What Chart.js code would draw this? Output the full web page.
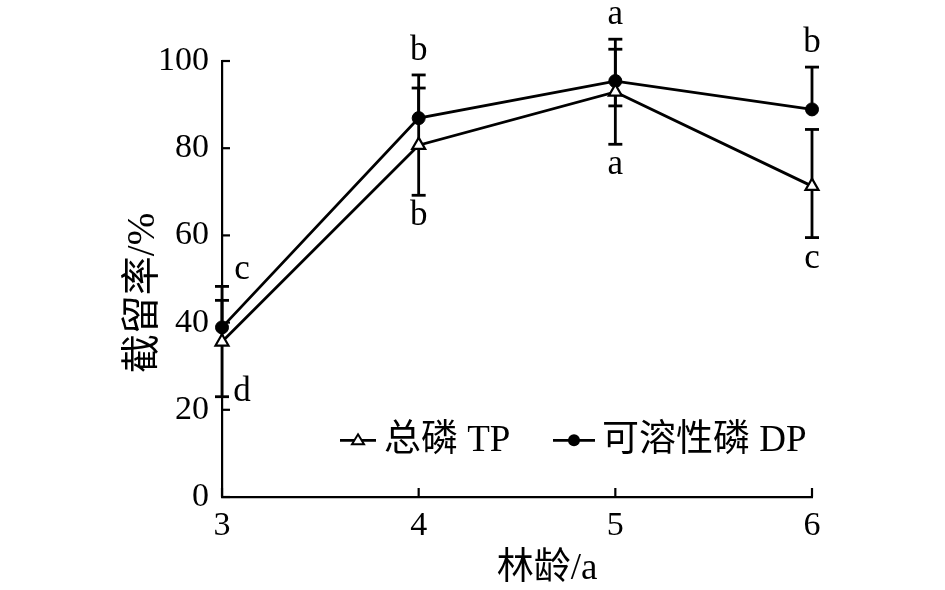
<!DOCTYPE html>
<html>
<head>
<meta charset="utf-8">
<script src="https://cdn.jsdelivr.net/npm/chart.js@4.4.0/dist/chart.umd.min.js"></script>
<style>
html,body{margin:0;padding:0;background:#fff;}
#wrap{width:945px;height:590px;position:relative;}
</style>
</head>
<body>
<div id="wrap"><canvas id="c" width="945" height="590"></canvas></div>
<script>
// ---- data ----
const standAge = [3, 4, 5, 6];                 // 林龄/a
const tpMean  = [35.6, 80.7, 92.9, 71.3];      // 总磷 TP
const tpUpper = [45.1, 93.8, 102.7, 84.3];
const tpLower = [23.0, 69.2, 80.9, 59.5];
const dpMean  = [38.9, 86.9, 95.4, 88.9];      // 可溶性磷 DP
const dpUpper = [48.3, 96.8, 105.0, 98.6];
const dpLower = [null, null, 89.7, null];
const tpLetters = ['d', 'b', 'a', 'c'];
const dpLetters = ['c', 'b', 'a', 'b'];
const yTicks = [0, 20, 40, 60, 80, 100];
const xTitle = '林龄/a';
const yTitle = '截留率/%';
const tpName = '总磷 TP';
const dpName = '可溶性磷 DP';

const FONT = '"Liberation Serif", "Times New Roman", "Noto Sans CJK SC", serif';
Chart.defaults.color = '#000';
Chart.defaults.font.family = FONT;

const decor = {
  id: 'decor',
  beforeDatasetsDraw(chart) {
    const ctx = chart.ctx, xs = chart.scales.x, ys = chart.scales.y;
    ctx.save();
    ctx.strokeStyle = '#000';
    ctx.lineWidth = 2.8;
    const cap = 7;
    const bar = (x, v0, v1) => {
      const px = xs.getPixelForValue(x);
      const p0 = ys.getPixelForValue(v0), p1 = ys.getPixelForValue(v1);
      ctx.beginPath(); ctx.moveTo(px, p0); ctx.lineTo(px, p1); ctx.stroke();
      ctx.beginPath(); ctx.moveTo(px - cap, p1); ctx.lineTo(px + cap, p1); ctx.stroke();
    };
    standAge.forEach((x, i) => {
      if (tpUpper[i] != null) bar(x, tpMean[i], tpUpper[i]);
      if (tpLower[i] != null) bar(x, tpMean[i], tpLower[i]);
      if (dpUpper[i] != null) bar(x, dpMean[i], dpUpper[i]);
      if (dpLower[i] != null) bar(x, dpMean[i], dpLower[i]);
    });
    ctx.restore();
  },
  afterDraw(chart) {
    const ctx = chart.ctx, xs = chart.scales.x, ys = chart.scales.y, a = chart.chartArea;
    ctx.save();
    ctx.strokeStyle = '#000';
    ctx.fillStyle = '#000';
    ctx.lineWidth = 2.2;
    // inward ticks
    yTicks.forEach(v => {
      const py = ys.getPixelForValue(v);
      ctx.beginPath(); ctx.moveTo(a.left, py); ctx.lineTo(a.left + 8, py); ctx.stroke();
    });
    standAge.forEach(v => {
      const px = xs.getPixelForValue(v);
      ctx.beginPath(); ctx.moveTo(px, a.bottom); ctx.lineTo(px, a.bottom - 9); ctx.stroke();
    });
    // significance letters
    ctx.font = '35px ' + FONT;
    ctx.textAlign = 'center';
    ctx.textBaseline = 'middle';
    standAge.forEach((x, i) => {
      let px = xs.getPixelForValue(x);
      const topV = Math.max(dpUpper[i] ?? -1e9, tpUpper[i] ?? -1e9);
      const botV = Math.min(tpLower[i] ?? 1e9, dpLower[i] ?? 1e9);
      if (i === 0) {
        ctx.fillText(dpLetters[i], px + 20, ys.getPixelForValue(topV) - 17);
        ctx.fillText(tpLetters[i], px + 20, ys.getPixelForValue(botV) - 5);
      } else {
        ctx.fillText(dpLetters[i], px, ys.getPixelForValue(topV) - 24);
        ctx.fillText(tpLetters[i], px, ys.getPixelForValue(botV) + 21);
      }
    });
    // axis titles
    ctx.font = '37px ' + FONT;
    ctx.fillText(xTitle, (a.left + a.right) / 2 + 30, a.bottom + 72);
    ctx.save();
    ctx.font = '39px ' + FONT;
    ctx.translate(a.left - 78, (a.top + a.bottom) / 2 + 14);
    ctx.rotate(-Math.PI / 2);
    ctx.fillText(yTitle, 0, 0);
    ctx.restore();
    // legend
    const ly = ys.getPixelForValue(13);
    ctx.lineWidth = 2.8;
    ctx.beginPath(); ctx.moveTo(340, ly); ctx.lineTo(376, ly); ctx.stroke();
    ctx.beginPath();
    ctx.moveTo(358, ly - 6); ctx.lineTo(364, ly + 4); ctx.lineTo(352, ly + 4); ctx.closePath();
    ctx.fillStyle = '#fff'; ctx.fill(); ctx.lineWidth = 2; ctx.stroke();
    ctx.fillStyle = '#000';
    ctx.lineWidth = 2.8;
    ctx.beginPath(); ctx.moveTo(553, ly); ctx.lineTo(595, ly); ctx.stroke();
    ctx.beginPath(); ctx.arc(574, ly, 6, 0, Math.PI * 2); ctx.fill();
    ctx.font = '37px ' + FONT;
    ctx.textAlign = 'left';
    ctx.fillText(tpName, 384, ly + 1);
    ctx.fillText(dpName, 602, ly + 1);
    ctx.restore();
  }
};

new Chart(document.getElementById('c'), {
  type: 'line',
  data: {
    datasets: [
      {
        label: tpName,
        data: standAge.map((x, i) => ({x, y: tpMean[i]})),
        borderColor: '#000', borderWidth: 2.8,
        pointStyle: 'triangle', pointRadius: 7.5, pointBorderWidth: 2.2,
        pointBackgroundColor: '#fff', pointBorderColor: '#000',
        clip: false, tension: 0
      },
      {
        label: dpName,
        data: standAge.map((x, i) => ({x, y: dpMean[i]})),
        borderColor: '#000', borderWidth: 2.8,
        pointStyle: 'circle', pointRadius: 6.5, pointBorderWidth: 1,
        pointBackgroundColor: '#000', pointBorderColor: '#000',
        clip: false, tension: 0
      }
    ]
  },
  options: {
    responsive: false,
    animation: false,
    devicePixelRatio: 1,
    layout: { padding: { left: 0, top: 61, right: 133, bottom: 0 } },
    plugins: { legend: { display: false }, tooltip: { enabled: false } },
    scales: {
      x: {
        type: 'linear', min: 3, max: 6,
        afterBuildTicks: s => { s.ticks = standAge.map(v => ({value: v})); },
        afterFit: s => { s.height = 93; },
        grid: { display: false, drawTicks: false },
        border: { display: true, color: '#000', width: 2.2 },
        ticks: { padding: 9, font: { size: 34 }, color: '#000' }
      },
      y: {
        min: 0, max: 100,
        afterBuildTicks: s => { s.ticks = yTicks.map(v => ({value: v})); },
        afterFit: s => { s.width = 222; },
        grid: { display: false, drawTicks: false },
        border: { display: true, color: '#000', width: 2.2 },
        ticks: { padding: 13, font: { size: 34 }, color: '#000' }
      }
    }
  },
  plugins: [decor]
});
</script>
</body>
</html>
